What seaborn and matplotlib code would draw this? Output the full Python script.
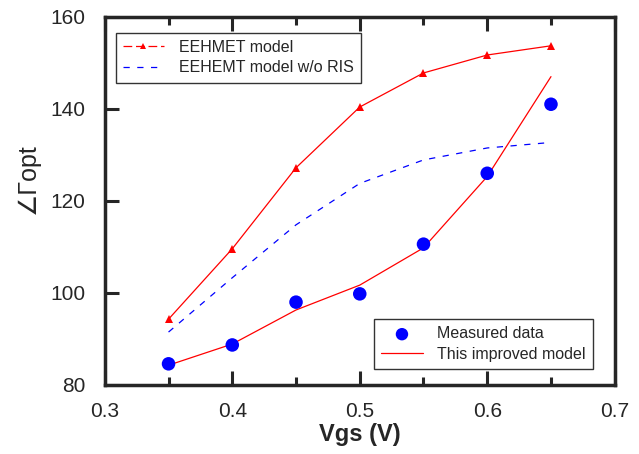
import pandas as pd
import seaborn as sns
import matplotlib.pyplot as plt
from matplotlib.ticker import MultipleLocator

vgs = [0.35, 0.40, 0.45, 0.50, 0.55, 0.60, 0.65]
eehemt = [94.3, 109.6, 127.2, 140.4, 147.8, 151.7, 153.7]
no_ris = [91.5, 103.3, 114.8, 123.8, 128.9, 131.5, 132.7]
measured = [84.6, 88.7, 98.0, 99.8, 110.6, 126.0, 141.0]
improved = [84.3, 88.9, 96.3, 101.7, 109.8, 125.3, 147.0]

df = pd.DataFrame({"vgs": vgs, "eehemt": eehemt, "no_ris": no_ris,
                   "measured": measured, "improved": improved})

sns.set_style("ticks")
plt.rcParams["font.family"] = ["Liberation Sans", "DejaVu Sans"]

fig = plt.figure(figsize=(6.39, 4.54), dpi=100)
ax = fig.add_axes([0.164, 0.152, 0.798, 0.811])

# curves
sns.lineplot(data=df, x="vgs", y="eehemt", color="red", lw=0.9, marker="^",
             markersize=6, markeredgewidth=0, ax=ax, legend=False)
ax.plot(df["vgs"], df["no_ris"], color="blue", lw=0.9, dashes=[5, 6])
sns.lineplot(data=df, x="vgs", y="improved", color="red", lw=0.9, ax=ax, legend=False)
sns.scatterplot(data=df, x="vgs", y="measured", color="blue", s=95,
                edgecolor="none", ax=ax, zorder=3)

# legend proxies
h1, = ax.plot([], [], color="red", lw=0.9, marker="^", ms=5, markeredgewidth=0,
              dashes=[7, 3])
h2, = ax.plot([], [], color="blue", lw=0.9, dashes=[5, 6])
h3 = ax.scatter([], [], s=80, color="blue", edgecolor="none")
h4, = ax.plot([], [], color="red", lw=0.9)

ax.set_xlim(0.3, 0.7)
ax.set_ylim(80, 160)
ax.xaxis.set_major_locator(MultipleLocator(0.1))
ax.xaxis.set_minor_locator(MultipleLocator(0.05))
ax.yaxis.set_major_locator(MultipleLocator(20))
ax.tick_params(axis="x", which="major", direction="in", length=10, width=2.2,
               top=True, labelsize=15, pad=12)
ax.tick_params(axis="x", which="minor", direction="in", length=6, width=2.2, top=True)
ax.tick_params(axis="y", which="major", direction="in", length=10, width=2.2,
               labelsize=15, pad=14)
for sp in ax.spines.values():
    sp.set_linewidth(2.5)
    sp.set_visible(True)

ax.set_xlabel("Vgs (V)", fontsize=17, fontweight="bold", labelpad=2)
ax.set_ylabel("∠Γopt", fontsize=18)
ax.yaxis.set_label_coords(-0.128, 0.56)

leg_kw = dict(fontsize=11.5, frameon=True, fancybox=False, edgecolor="black",
              handlelength=2.6, borderpad=0.45, labelspacing=0.35,
              handletextpad=0.9, borderaxespad=0)
leg1 = ax.legend([h1, h2], ["EEHMET model", "EEHEMT model w/o RIS"],
                 loc="upper left", bbox_to_anchor=(0.021, 0.957), **leg_kw)
leg1.get_frame().set_linewidth(1)
ax.add_artist(leg1)
leg2 = ax.legend([h3, h4], ["Measured data", "This improved model"],
                 loc="lower right", bbox_to_anchor=(0.957, 0.043), **leg_kw)
leg2.get_frame().set_linewidth(1)

fig.savefig("out.png", dpi=100)
